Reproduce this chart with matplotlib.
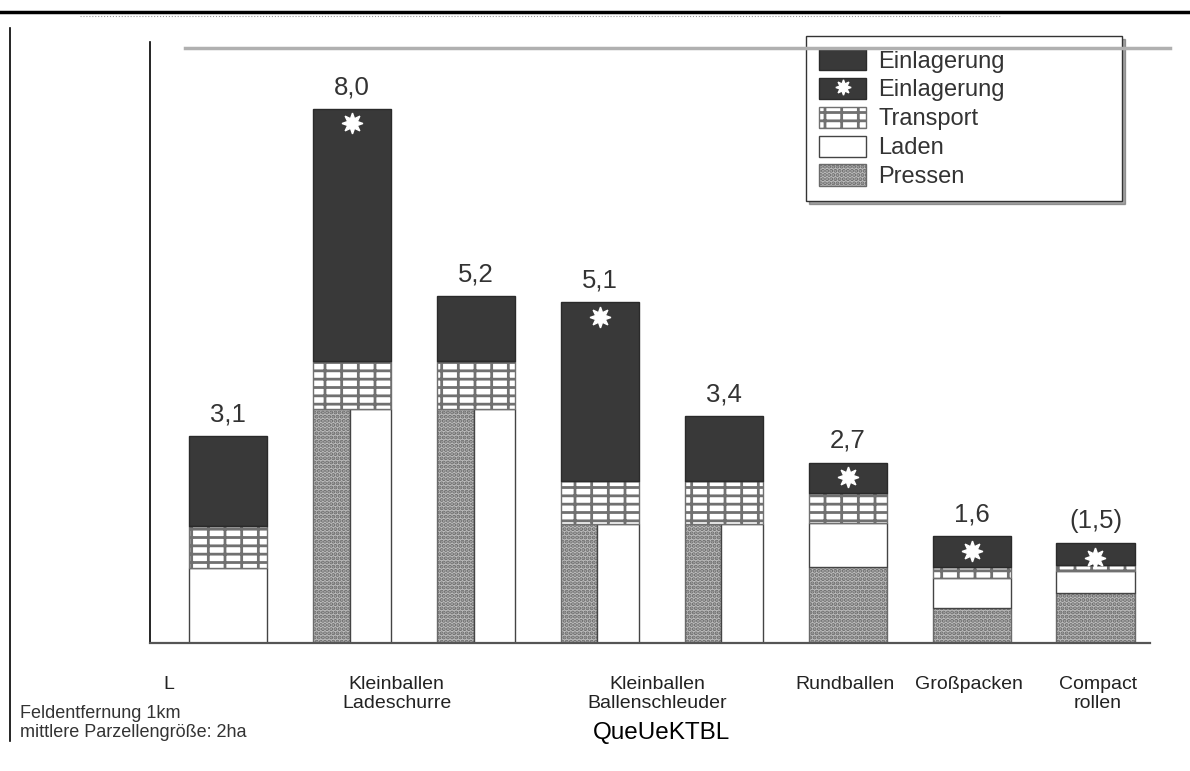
import matplotlib
matplotlib.use('Agg')
import matplotlib.pyplot as plt
import numpy as np
from matplotlib.patches import Patch
from matplotlib.lines import Line2D

plt.rcParams['font.family'] = ['Liberation Sans', 'DejaVu Sans']
plt.rcParams['hatch.linewidth'] = 2.0

# Werte je Balken (Akh/ha)
totals = ['3,1', '8,0', '5,2', '5,1', '3,4', '2,7', '1,6', '(1,5)']
pressen = [0, 3.5, 3.5, 1.78, 1.78, 1.14, 0.52, 0.75]
laden = [1.12, 3.5, 3.5, 1.78, 1.78, 0.66, 0.45, 0.33]
transport = [0.63, 0.73, 0.72, 0.64, 0.64, 0.44, 0.17, 0.09]
einlagerung = [1.35, 0, 0.98, 0, 0.98, 0, 0, 0]
einlagerung_stern = [0, 3.77, 0, 2.68, 0, 0.46, 0.46, 0.33]
nebeneinander = [False, True, True, True, True, False, False, False]

tick_pos = [-0.48, 1.36, 3.46, 4.98, 5.98, 7.02]
tick_labels = ['L', 'Kleinballen\nLadeschurre', 'Kleinballen\nBallenschleuder',
               'Rundballen', 'Großpacken', 'Compact\nrollen']

dark = '#393939'
stipple = '#bdbdbd'
brick = '#707070'

fig = plt.figure(figsize=(11.9, 7.71), dpi=100)
ax = fig.add_axes([150/1190, (771-643)/771, 1000/1190, 601/771])

x = np.arange(len(totals))
w = 0.63
frac = 0.47
pressen = np.array(pressen)
laden = np.array(laden)
side = np.array(nebeneinander)

# unterer Teil: Pressen / Laden, teils nebeneinander
for i in x:
    left = i - w/2
    if side[i]:
        ax.bar(left, pressen[i], width=w*frac, align='edge', color=stipple,
               edgecolor='#6a6a6a', hatch='....', lw=1)
        ax.bar(left + w*frac, laden[i], width=w*(1-frac), align='edge',
               color='white', edgecolor='#444444', lw=1)
    else:
        if pressen[i] > 0:
            ax.bar(left, pressen[i], width=w, align='edge', color=stipple,
                   edgecolor='#6a6a6a', hatch='....', lw=1)
        ax.bar(left, laden[i], bottom=pressen[i], width=w, align='edge',
               color='white', edgecolor='#444444', lw=1)

base = np.where(side, np.maximum(pressen, laden), pressen + laden)
ax.bar(x, transport, bottom=base, width=w, color='white',
       edgecolor=brick, hatch='+-', lw=1)
base2 = base + np.array(transport)
ax.bar(x, einlagerung, bottom=base2, width=w, color=dark,
       edgecolor='#2a2a2a', lw=1)
ax.bar(x, einlagerung_stern, bottom=base2, width=w, color=dark,
       edgecolor='#2a2a2a', lw=1)

top = base2 + np.array(einlagerung) + np.array(einlagerung_stern)
stern = np.array(einlagerung_stern) > 0
ax.plot(x[stern], top[stern] - 0.22, ls='', marker=(8, 1, 0), ms=15,
        color='white', mec='white')

for i in x:
    ax.annotate(totals[i], (i, top[i]), xytext=(0, 7), textcoords='offset points',
                ha='center', va='bottom', fontsize=18.5, color='#333333')

ax.set_xlim(-0.63, 7.44)
ax.set_ylim(0, 9.0)
ax.set_xticks(tick_pos)
ax.set_xticklabels(tick_labels, fontsize=14, color='#222222', linespacing=1.1)
ax.tick_params(axis='x', length=0, pad=24)
ax.set_yticks([])
for s in ['top', 'right']:
    ax.spines[s].set_visible(False)
ax.spines['left'].set_linewidth(1.2)
ax.spines['bottom'].set_color('#555555')
ax.spines['bottom'].set_linewidth(1.6)

handles = [Patch(facecolor=dark, edgecolor='#2a2a2a'),
           (Patch(facecolor=dark, edgecolor='#2a2a2a'),
            Line2D([], [], ls='', marker=(8, 1, 0), ms=11, color='white')),
           Patch(facecolor='white', edgecolor=brick, hatch='+-'),
           Patch(facecolor='white', edgecolor='#444444'),
           Patch(facecolor=stipple, edgecolor='#6a6a6a', hatch='....')]
labels = ['Einlagerung', 'Einlagerung', 'Transport', 'Laden', 'Pressen']
leg = ax.legend(handles, labels, loc='upper left', mode='expand',
                bbox_to_anchor=(806/1190, (771-202)/771, 316/1190, 166/771),
                bbox_transform=fig.transFigure, fontsize=17, frameon=True,
                fancybox=False, shadow=True, handlelength=2.0, handleheight=1.0,
                handletextpad=0.5, labelspacing=0.22, borderpad=0.55,
                borderaxespad=0)
leg.get_frame().set_edgecolor('#333333')
leg.get_frame().set_linewidth(1)
for t in leg.get_texts():
    t.set_color('#333333')

# Rahmenlinien der Vorlage
fig.add_artist(Line2D([0, 1], [1-12/771, 1-12/771], color='black', lw=2.5))
fig.add_artist(Line2D([80/1190, 1000/1190], [1-16/771, 1-16/771], color='#999999',
                      lw=0.8, ls=':'))
fig.add_artist(Line2D([185/1190, 1170/1190], [1-48/771, 1-48/771], color='#b0b0b0',
                      lw=2.5))
fig.add_artist(Line2D([10/1190, 10/1190], [30/771, 1-28/771], color='black', lw=1.2))

fig.text(20/1190, 1-723/771, 'Feldentfernung 1km\nmittlere Parzellengröße: 2ha',
         fontsize=13, va='center', ha='left', color='#333333', linespacing=1.15)
fig.text(662/1190, 1-733/771, 'QueUeKTBL', fontsize=17.5, ha='center', va='center')

fig.savefig('out.png', dpi=100)
